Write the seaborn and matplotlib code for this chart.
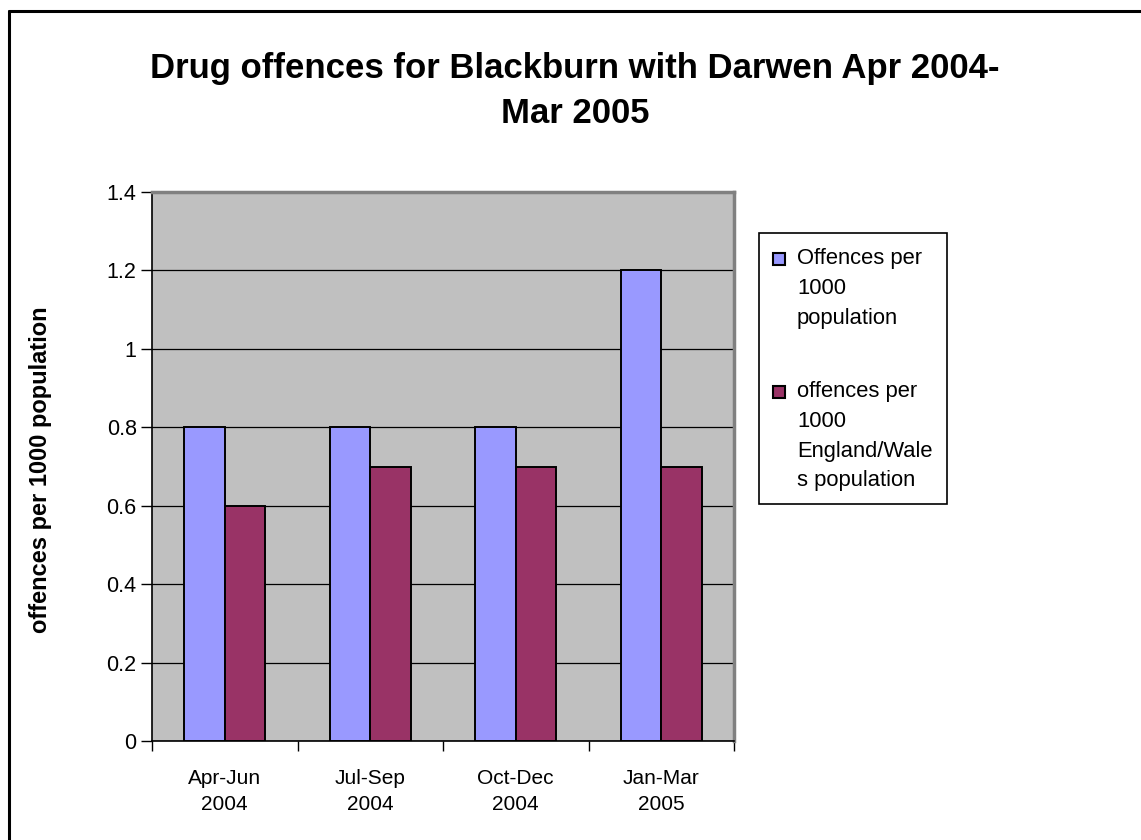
import matplotlib
matplotlib.use("Agg")
import matplotlib.pyplot as plt
from matplotlib.lines import Line2D
from matplotlib.patches import Rectangle
from matplotlib.ticker import FixedLocator, NullFormatter
import seaborn as sns
import pandas as pd

# Quarterly drug offence rates
quarters = ["Apr-Jun\n2004", "Jul-Sep\n2004", "Oct-Dec\n2004", "Jan-Mar\n2005"]
local_rate = [0.8, 0.8, 0.8, 1.2]
national_rate = [0.6, 0.7, 0.7, 0.7]
series_names = ["Offences per\n1000\npopulation",
                "offences per\n1000\nEngland/Wale\ns population"]
series_colors = ["#9999FF", "#993366"]
y_ticks = [0, 0.2, 0.4, 0.6, 0.8, 1.0, 1.2, 1.4]
y_tick_labels = ["0", "0.2", "0.4", "0.6", "0.8", "1", "1.2", "1.4"]

df = pd.DataFrame({
    "quarter": quarters * 2,
    "rate": local_rate + national_rate,
    "series": [series_names[0]] * len(quarters) + [series_names[1]] * len(quarters),
})

sns.set_theme(style="white")
plt.rcParams["font.family"] = ["Liberation Sans", "DejaVu Sans"]
for key in ["text.color", "axes.labelcolor", "xtick.color", "ytick.color"]:
    plt.rcParams[key] = "black"

W, H = 1141, 840
fig = plt.figure(figsize=(W / 100, H / 100), dpi=100)
ax = fig.add_axes([152 / W, 1 - 741 / H, 582 / W, 549 / H])
ax.set_facecolor("#C0C0C0")

sns.barplot(data=df, x="quarter", y="rate", hue="series", order=quarters,
            hue_order=series_names, palette=series_colors, width=0.56,
            edgecolor="black", linewidth=1.4, saturation=1, ax=ax, zorder=3,
            legend=False)

ax.set_ylim(0, 1.4)
ax.set_xlim(-0.5, len(quarters) - 0.5)
ax.set_yticks(y_ticks)
ax.set_yticklabels(y_tick_labels, fontsize=15.5)
ax.yaxis.grid(True, color="black", linewidth=0.9, zorder=1)
ax.set_axisbelow(True)

ax.tick_params(axis="y", which="major", direction="out", length=8, width=1,
               color="black", pad=3, left=True)
ax.tick_params(axis="x", which="major", length=0, pad=20, labelsize=15)
ax.xaxis.set_minor_locator(FixedLocator([i - 0.5 for i in range(len(quarters) + 1)]))
ax.xaxis.set_minor_formatter(NullFormatter())
ax.tick_params(axis="x", which="minor", direction="out", length=7, width=1,
               color="black", bottom=True)
for lbl in ax.get_xticklabels():
    lbl.set_linespacing(1.5)

ax.set_xlabel("")
ax.set_ylabel("offences per 1000 population", fontsize=17, fontweight="bold")
ax.yaxis.set_label_coords((52 - 152) / 582, (741 - 470) / 549)

for side in ["left", "bottom"]:
    ax.spines[side].set_color("black")
    ax.spines[side].set_linewidth(1.2)
for side in ["top", "right"]:
    ax.spines[side].set_color("#808080")
    ax.spines[side].set_linewidth(2.5)

# legend panel: frame, swatches aligned with the first line of each label
fig.add_artist(Rectangle((759 / W, 1 - 504 / H), 188 / W, 271 / H,
                         transform=fig.transFigure, facecolor="white",
                         edgecolor="black", linewidth=1.2))
swatch_tops = [253, 386]
for name, color, top in zip(series_names, series_colors, swatch_tops):
    fig.add_artist(Rectangle((773 / W, 1 - (top + 12) / H), 12 / W, 12 / H,
                             transform=fig.transFigure, facecolor=color,
                             edgecolor="black", linewidth=1.5))
    fig.text(797 / W, 1 - (top - 5) / H, name, fontsize=15.8, va="top",
             ha="left", linespacing=1.55)

fig.text(575 / W, 1 - 52 / H, "Drug offences for Blackburn with Darwen Apr 2004-\nMar 2005",
         ha="center", va="top", fontsize=25, fontweight="bold", linespacing=1.45)

# outer chart frame
fig.add_artist(Line2D([9 / W, 9 / W], [0, 1 - 11 / H], color="black",
                      linewidth=2.2, transform=fig.transFigure))
fig.add_artist(Line2D([9 / W, 1], [1 - 11 / H, 1 - 11 / H], color="black",
                      linewidth=2.2, transform=fig.transFigure))

fig.savefig("out.png", dpi=100, facecolor="white")
